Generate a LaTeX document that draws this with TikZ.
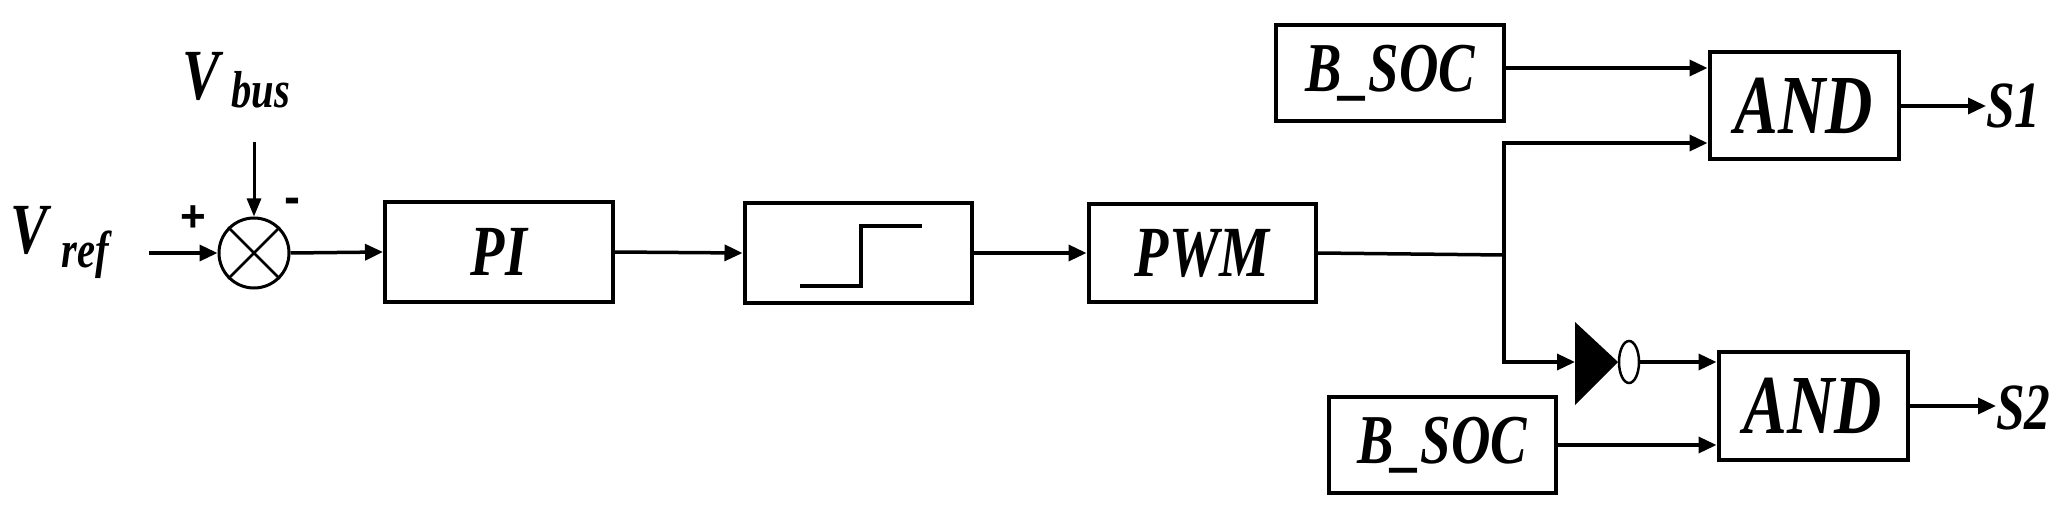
\documentclass[tikz,border=0pt]{standalone}
\usepackage{fontspec}
\setmainfont{Liberation Serif}[FakeStretch=0.78]
\newfontfamily\sansf{Liberation Sans}
\usetikzlibrary{arrows.meta,shapes.geometric}
\begin{document}
\begin{tikzpicture}[x=1pt,y=-1pt,
  blk/.style={draw,line width=4pt,inner sep=0pt,font=\bfseries\itshape},
  ln/.style={line width=3.5pt},
  ar/.style={line width=3.5pt,-{Triangle[length=18pt,width=16pt]}},
  lab/.style={font=\bfseries\itshape,inner sep=0pt}]
\useasboundingbox (0,0) rectangle (2072,513);
% sum junction
\node[draw,line width=3pt,circle,minimum size=70pt,inner sep=0pt] (sum) at (254,253) {};
\draw[line width=2.5pt] (sum.45)--(sum.225) (sum.135)--(sum.315);
\node[lab,font=\fontsize{72}{72}\selectfont\bfseries\itshape,anchor=base west] (vr) at (10,253) {V\kern14pt\raisebox{-14pt}{\fontsize{52}{52}\selectfont ref}};
\node[lab,font=\fontsize{72}{72}\selectfont\bfseries\itshape,anchor=base west] (vb) at (182,100) {V\kern12pt\raisebox{-8pt}{\fontsize{52}{52}\selectfont bus}};
\coordinate (vrin) at (149,253);
\coordinate (vbin) at (254,142);
\node[inner sep=0pt,font=\sansf\bfseries\fontsize{44}{44}\selectfont] (plus) at (193,219) {+};
\node[inner sep=0pt,font=\sansf\bfseries\fontsize{48}{48}\selectfont] (minus) at (292,206) {-};
% blocks
\node[blk,minimum width=228pt,minimum height=100pt,font=\fontsize{72}{72}\selectfont\bfseries\itshape] (pi) at (499,252) {PI};
\node[blk,minimum width=227pt,minimum height=100pt] (step) at (858,253) {};
\draw[line width=4.5pt] (800,286)--(861,286)--(861,226)--(922,226);
\node[blk,minimum width=227pt,minimum height=98pt,font=\fontsize{72}{72}\selectfont\bfseries\itshape] (pwm) at (1202,253) {PWM};
\node[blk,minimum width=228pt,minimum height=96pt,font=\fontsize{70}{70}\selectfont\bfseries\itshape] (b1) at (1390,73) {B\_SOC};
\node[blk,minimum width=227pt,minimum height=96pt,font=\fontsize{70}{70}\selectfont\bfseries\itshape] (b2) at (1442,445) {B\_SOC};
\node[blk,minimum width=189pt,minimum height=107pt,font=\fontsize{84}{84}\selectfont\bfseries\itshape] (and1) at (1804,106) {AND};
\node[blk,minimum width=189pt,minimum height=108pt,font=\fontsize{84}{84}\selectfont\bfseries\itshape] (and2) at (1813,406) {AND};
\node[lab,font=\fontsize{66}{66}\selectfont\bfseries\itshape,anchor=west] (s1) at (1986,106) {S1};
\node[lab,font=\fontsize{66}{66}\selectfont\bfseries\itshape,anchor=west] (s2) at (1996,408) {S2};
% NOT gate
\coordinate (br) at (1504,255);
\coordinate (nt) at (1575,362);
\fill (1575,322)--(1618,362)--(1575,405)--cycle;
\node[draw,line width=2.5pt,ellipse,minimum width=20pt,minimum height=42pt,inner sep=0pt] (bub) at (1629,362) {};
% connectors
\draw[ar] (vrin)--(sum.west);
\draw[line width=3pt,-{Triangle[length=18pt,width=14pt]}] (vbin)--(sum.north);
\draw[ar] (sum.east)--(pi.west);
\draw[ar] (pi.east)--(step.west);
\draw[ar] (step.east)--(pwm.west);
\draw[ln] (pwm.east)--(br);
\draw[ar] (br)--(1504,143)--(and1.west|-0,143);
\draw[ar] (br)--(1504,362)--(nt);
\draw[ar] (b1.east|-0,68)--(and1.west|-0,68);
\draw[ar] (bub.east)--(and2.west|-0,362);
\draw[ar] (b2.east)--(and2.west|-0,445);
\draw[ar] (and1.east)--(and1.east-|s1.west);
\draw[ar] (and2.east)--(and2.east-|s2.west);
\end{tikzpicture}
\end{document}
